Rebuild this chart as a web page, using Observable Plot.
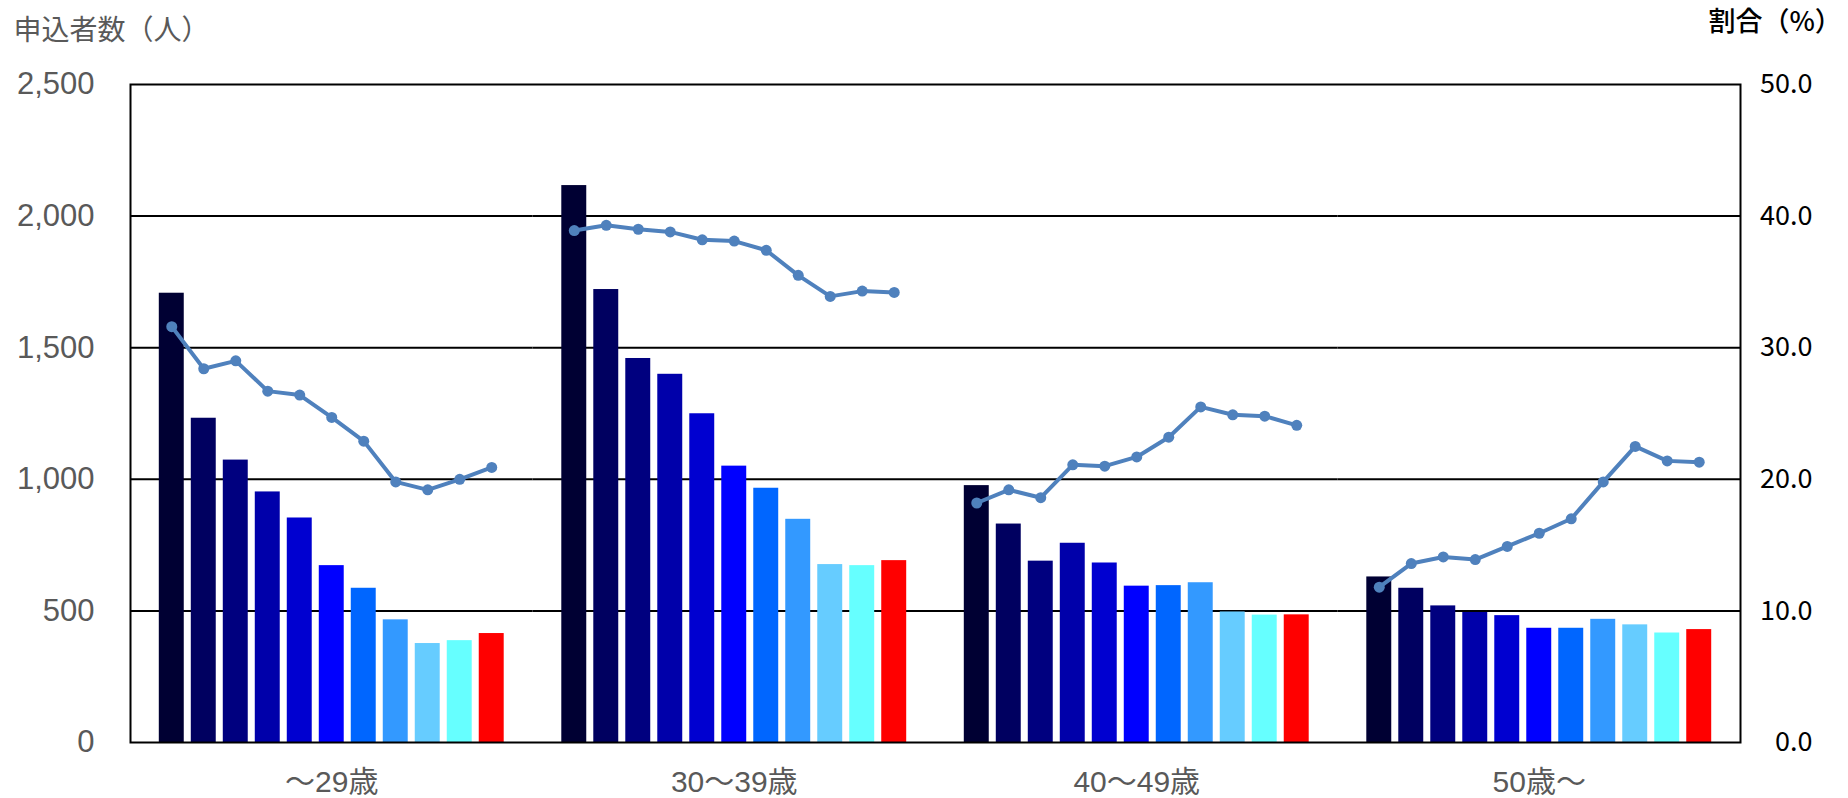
<!DOCTYPE html>
<html><head><meta charset="utf-8">
<script src="https://cdn.jsdelivr.net/npm/d3@7"></script>
<script src="https://cdn.jsdelivr.net/npm/@observablehq/plot@0.6"></script>
<style>html,body{margin:0;padding:0;background:#fff} svg{display:block}</style>
</head><body><div id="chart"></div>
<script>
// Age groups (facets)
const groups = ["～29歳", "30～39歳", "40～49歳", "50歳～"];
// 11 periods (not labelled in the chart)
const series = ["1", "2", "3", "4", "5", "6", "7", "8", "9", "10", "11"];
const barColors = ["#000033", "#000060", "#00007F", "#0000AA", "#0000D0", "#0000FF", "#0066FF", "#3399FF", "#66CCFF", "#66FFFF", "#FF0000"];

// 申込者数（人）
const v29 = [1707, 1232, 1073, 952, 853, 672, 586, 466, 376, 387, 414];
const v30 = [2116, 1721, 1459, 1399, 1249, 1050, 966, 848, 676, 672, 691];
const v40 = [976, 830, 689, 757, 682, 594, 596, 607, 496, 484, 485];
const v50 = [629, 586, 519, 494, 482, 434, 434, 468, 447, 416, 429];

// 割合（%）
const p29 = [31.6, 28.4, 29.0, 26.7, 26.4, 24.7, 22.9, 19.8, 19.2, 20.0, 20.9];
const p30 = [38.9, 39.3, 39.0, 38.8, 38.2, 38.1, 37.4, 35.5, 33.9, 34.3, 34.2];
const p40 = [18.2, 19.2, 18.6, 21.1, 21.0, 21.7, 23.2, 25.5, 24.9, 24.8, 24.1];
const p50 = [11.8, 13.6, 14.1, 13.9, 14.9, 15.9, 17.0, 19.8, 22.5, 21.4, 21.3];

const leftTicks = [0, 500, 1000, 1500, 2000, 2500];
const rightTicks = [0, 10, 20, 30, 40, 50];
const leftTitle = "申込者数（人）";
const rightTitle = "割合（%）";

const valueSets = [v29, v30, v40, v50];
const pctSets = [p29, p30, p40, p50];
const ratio = 2500 / 50; // right scale -> left scale
const data = groups.flatMap((g, i) => series.map((s, j) => ({group: g, series: s, value: valueSets[i][j], pct: pctSets[i][j]})));

const chart = Plot.plot({
  width: 1848, height: 798,
  marginLeft: 130, marginRight: 108, marginTop: 84, marginBottom: 56,
  style: {fontFamily: '"Liberation Sans", "Noto Sans CJK JP", sans-serif', background: "#fff"},
  fx: {domain: groups, padding: 0, round: false, label: null},
  x: {domain: series, paddingInner: 0.22, paddingOuter: 0.9, round: false, axis: null},
  y: {domain: [0, 2500]},
  color: {domain: series, range: barColors},
  marks: [
    Plot.gridY(leftTicks.slice(1, -1), {stroke: "#000", strokeOpacity: 1, strokeWidth: 2}),
    Plot.barY(data, {fx: "group", x: "series", y: "value", fill: "series"}),
    Plot.line(data, {fx: "group", x: "series", y: d => d.pct * ratio, stroke: "#4F81BD", strokeWidth: 4}),
    Plot.dot(data, {fx: "group", x: "series", y: d => d.pct * ratio, r: 5.5, fill: "#4F81BD"}),
    Plot.frame({facet: "super", stroke: "#000", strokeWidth: 2}),
    Plot.axisY(leftTicks, {anchor: "left", tickSize: 0, tickPadding: 36, tickFormat: d3.format(","), fontSize: 31, fill: "#595959", label: null}),
    Plot.axisY(rightTicks.map(v => v * ratio), {anchor: "right", tickSize: 0, tickPadding: 0, textAnchor: "end", dx: 72, tickFormat: d => (d / ratio).toFixed(1), fontSize: 27, fill: "#000", fontFamily: '"Noto Sans CJK JP", sans-serif', label: null}),
    Plot.axisFx({anchor: "bottom", tickSize: 0, tickPadding: 28, fontSize: 30, fill: "#595959", label: null}),
    Plot.text([leftTitle], {facet: "super", frameAnchor: "top-left", dx: -117, dy: -53, textAnchor: "start", lineAnchor: "middle", fontSize: 28, fill: "#595959", fontFamily: '"Noto Sans CJK JP", sans-serif'}),
    Plot.text([rightTitle], {facet: "super", frameAnchor: "top-right", dx: -32, dy: -62, textAnchor: "start", lineAnchor: "middle", fontSize: 27, fontWeight: 500, fill: "#000", fontFamily: '"Noto Sans CJK JP", sans-serif'})
  ]
});
document.getElementById("chart").appendChild(chart);
</script>
</body></html>
